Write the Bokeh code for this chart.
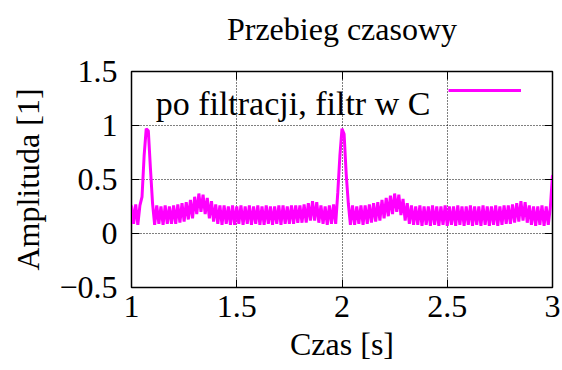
from bokeh.plotting import figure
from bokeh.models import (Range1d, FixedTicker, LinearAxis, Label, Legend,
                          LegendItem, ColumnDataSource)
from bokeh.embed import file_html
from bokeh.resources import INLINE

# ---------------- data ----------------
title_text = "Przebieg czasowy"
x_label = "Czas [s]"
y_label = "Amplituda [1]"
series_name = "po filtracji, filtr w C"

t_start = 1.0          # s
t_step = 0.01          # s between samples
amp = [
    0.26, 0.09, 0.27, 0.08, 0.26, 0.34, 0.72, 0.97, 0.95, 0.60,   # 1.00
    0.28, 0.08, 0.26, 0.09, 0.25, 0.08, 0.26, 0.09, 0.25, 0.09,   # 1.10
    0.26, 0.09, 0.27, 0.10, 0.28, 0.11, 0.29, 0.13, 0.31, 0.14,   # 1.20
    0.34, 0.18, 0.37, 0.20, 0.36, 0.18, 0.33, 0.14, 0.30, 0.11,   # 1.30
    0.27, 0.09, 0.26, 0.08, 0.26, 0.09, 0.25, 0.08, 0.26, 0.08,   # 1.40
    0.25, 0.09, 0.26, 0.08, 0.25, 0.09, 0.26, 0.08, 0.25, 0.09,   # 1.50
    0.26, 0.08, 0.25, 0.08, 0.26, 0.09, 0.25, 0.08, 0.25, 0.09,   # 1.60
    0.26, 0.08, 0.26, 0.09, 0.25, 0.09, 0.26, 0.09, 0.26, 0.10,   # 1.70
    0.26, 0.10, 0.27, 0.10, 0.28, 0.12, 0.30, 0.12, 0.29, 0.10,   # 1.80
    0.26, 0.09, 0.25, 0.08, 0.26, 0.09, 0.27, 0.09, 0.38, 0.72,   # 1.90
    0.97, 0.92, 0.55, 0.28, 0.08, 0.26, 0.08, 0.25, 0.09, 0.26,   # 2.00
    0.08, 0.26, 0.09, 0.27, 0.10, 0.28, 0.11, 0.29, 0.12, 0.31,   # 2.10
    0.14, 0.33, 0.16, 0.35, 0.18, 0.37, 0.20, 0.36, 0.17, 0.32,   # 2.20
    0.12, 0.28, 0.09, 0.26, 0.08, 0.25, 0.08, 0.26, 0.07, 0.25,   # 2.30
    0.08, 0.25, 0.07, 0.26, 0.08, 0.25, 0.07, 0.25, 0.08, 0.26,   # 2.40
    0.07, 0.25, 0.08, 0.25, 0.07, 0.26, 0.08, 0.25, 0.07, 0.25,   # 2.50
    0.08, 0.26, 0.07, 0.25, 0.08, 0.25, 0.07, 0.26, 0.08, 0.25,   # 2.60
    0.07, 0.25, 0.08, 0.26, 0.07, 0.25, 0.08, 0.26, 0.09, 0.26,   # 2.70
    0.09, 0.27, 0.10, 0.28, 0.11, 0.30, 0.12, 0.29, 0.10, 0.26,   # 2.80
    0.08, 0.25, 0.07, 0.25, 0.08, 0.26, 0.07, 0.25, 0.08, 0.25,   # 2.90
    0.54,                                                         # 3.00
]
time = [round(t_start + t_step * k, 2) for k in range(len(amp))]

x_ticks = [1, 1.5, 2, 2.5, 3]
x_tick_labels = ["1", "1.5", "2", "2.5", "3"]
y_ticks = [-0.5, 0, 0.5, 1, 1.5]
y_tick_labels = ["\u22120.5", "0", "0.5", "1", "1.5"]

# ---------------- styling ----------------
FONT = "Liberation Serif"
FS = "32px"
MAGENTA = "#ff00ff"

p = figure(width=562, height=370, title=title_text,
           x_range=Range1d(1, 3), y_range=Range1d(-0.5, 1.5),
           output_backend="svg", toolbar_location=None,
           min_border_left=131, min_border_right=10,
           min_border_top=68, min_border_bottom=83)
p.background_fill_color = "white"
p.border_fill_color = "white"
p.outline_line_color = "black"
p.outline_line_width = 1.5

p.title.align = "center"
p.title.text_font = FONT
p.title.text_font_size = FS
p.title.text_font_style = "normal"
p.title.text_color = "black"
p.title.standoff = 16

src = ColumnDataSource(dict(t=time, a=amp))
r = p.line("t", "a", source=src, line_color=MAGENTA, line_width=3)

# main axes
for ax, ticks, labels in ((p.xaxis[0], x_ticks, x_tick_labels),
                          (p.yaxis[0], y_ticks, y_tick_labels)):
    ax.ticker = FixedTicker(ticks=ticks)
    ax.major_label_overrides = dict(zip(ticks, labels))
    ax.major_label_text_font = FONT
    ax.major_label_text_font_size = FS
    ax.major_label_text_color = "black"
    ax.axis_label_text_font = FONT
    ax.axis_label_text_font_size = FS
    ax.axis_label_text_font_style = "normal"
    ax.axis_label_text_color = "black"
    ax.major_tick_in = 8
    ax.major_tick_out = 0
    ax.minor_tick_line_color = None
    ax.axis_line_color = "black"
    ax.major_tick_line_color = "black"

p.xaxis[0].axis_label = x_label
p.yaxis[0].axis_label = y_label
p.xaxis[0].major_label_standoff = 8
p.xaxis[0].axis_label_standoff = 6
p.yaxis[0].major_label_standoff = 14
p.yaxis[0].axis_label_standoff = 10

# mirrored tick marks (top / right), no labels
top = LinearAxis(ticker=FixedTicker(ticks=x_ticks),
                 major_label_overrides={k: " " for k in x_ticks})
right = LinearAxis(ticker=FixedTicker(ticks=y_ticks),
                   major_label_overrides={k: "" for k in y_ticks})
for ax in (top, right):
    ax.major_tick_in = 8
    ax.major_tick_out = 0
    ax.minor_tick_line_color = None
    ax.major_label_text_font_size = "1px"
    ax.major_label_standoff = 0
    ax.axis_line_color = "black"
    ax.major_tick_line_color = "black"
top.major_label_standoff = 13      # leaves room between frame and title
p.add_layout(top, "above")
p.add_layout(right, "right")

# dotted grid
for g in (p.xgrid[0], p.ygrid[0]):
    g.grid_line_color = "black"
    g.grid_line_dash = "1 2"
    g.grid_line_width = 1
    g.grid_line_alpha = 1.0

# key: text then line sample (gnuplot style)
p.add_layout(Label(x=2.42, y=1.205, text=series_name, text_align="right",
                   text_baseline="alphabetic", text_font=FONT,
                   text_font_size="34px", text_color="black"))
legend = Legend(items=[LegendItem(label=" ", renderers=[r])],
                location=(317, 187), glyph_width=73, glyph_height=20,
                padding=0, margin=0, spacing=0, label_standoff=0,
                label_width=0, label_height=20, label_text_font_size="1px",
                border_line_color=None, background_fill_alpha=0)
p.add_layout(legend)

open("out.html", "w").write(file_html(p, INLINE))
